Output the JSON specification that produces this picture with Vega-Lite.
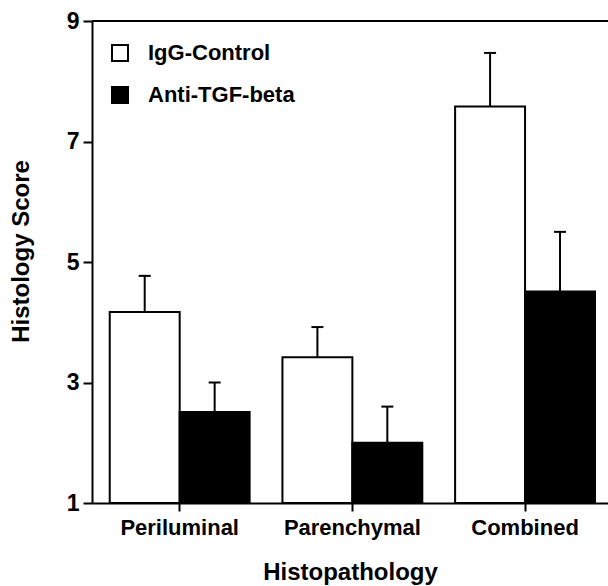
{
  "$schema": "https://vega.github.io/schema/vega-lite/v6.json",
  "width": 516,
  "height": 482,
  "autosize": {"type": "none"},
  "padding": {"left": 92, "top": 21, "right": 0, "bottom": 83},
  "background": "white",
  "config": {
    "view": {"stroke": null},
    "font": "Liberation Sans",
    "axis": {
      "domainColor": "black",
      "domainWidth": 2,
      "tickColor": "black",
      "tickWidth": 2,
      "labelColor": "black",
      "labelFont": "Liberation Sans",
      "labelFontWeight": "bold",
      "labelFontSize": 22,
      "titleColor": "black",
      "titleFont": "Liberation Sans",
      "titleFontWeight": "bold",
      "grid": false
    },
    "legend": {
      "labelFont": "Liberation Sans",
      "labelFontWeight": "bold",
      "labelFontSize": 22,
      "labelColor": "black"
    }
  },
  "data": {
    "values": [
      {"site": "Periluminal", "group": "IgG-Control", "mean": 4.17, "upper": 4.77},
      {"site": "Periluminal", "group": "Anti-TGF-beta", "mean": 2.51, "upper": 3.0},
      {"site": "Parenchymal", "group": "IgG-Control", "mean": 3.42, "upper": 3.92},
      {"site": "Parenchymal", "group": "Anti-TGF-beta", "mean": 2.0, "upper": 2.6},
      {"site": "Combined", "group": "IgG-Control", "mean": 7.58, "upper": 8.47},
      {"site": "Combined", "group": "Anti-TGF-beta", "mean": 4.51, "upper": 5.5}
    ]
  },
  "layer": [
    {
      "mark": {"type": "bar", "stroke": "black", "strokeWidth": 2},
      "encoding": {
        "x": {
          "field": "site",
          "type": "nominal",
          "sort": ["Periluminal", "Parenchymal", "Combined"],
          "scale": {"paddingInner": 0.19, "paddingOuter": 0.089, "align": 0.577},
          "axis": {
            "labelAngle": 0,
            "tickSize": 8,
            "labelPadding": 6,
            "title": "Histopathology",
            "titleFontSize": 24,
            "titlePadding": 22
          }
        },
        "xOffset": {
          "field": "group",
          "type": "nominal",
          "sort": ["IgG-Control", "Anti-TGF-beta"],
          "scale": {"paddingInner": 0, "paddingOuter": 0}
        },
        "y": {
          "field": "mean",
          "type": "quantitative",
          "scale": {"domain": [1, 9], "zero": false, "nice": false},
          "axis": {
            "values": [1, 3, 5, 7, 9],
            "format": "d",
            "tickSize": 9,
            "labelPadding": 4,
            "labelFontSize": 23,
            "title": "Histology Score",
            "titleFontSize": 24,
            "titleX": -59,
            "titleY": 230
          }
        },
        "y2": {"datum": 1},
        "fill": {
          "field": "group",
          "type": "nominal",
          "sort": ["IgG-Control", "Anti-TGF-beta"],
          "scale": {"domain": ["IgG-Control", "Anti-TGF-beta"], "range": ["white", "black"]},
          "legend": {
            "title": null,
            "orient": "none",
            "legendX": 17,
            "legendY": 21,
            "padding": 0,
            "symbolType": "square",
            "symbolSize": 256,
            "symbolStrokeColor": "black",
            "symbolStrokeWidth": 2,
            "labelOffset": 17,
            "rowPadding": 18
          }
        }
      }
    },
    {
      "mark": {"type": "rule", "color": "black", "strokeWidth": 2},
      "encoding": {
        "x": {"field": "site", "type": "nominal", "sort": ["Periluminal", "Parenchymal", "Combined"]},
        "xOffset": {"field": "group", "type": "nominal", "sort": ["IgG-Control", "Anti-TGF-beta"]},
        "y": {"field": "mean", "type": "quantitative"},
        "y2": {"field": "upper"}
      }
    },
    {
      "mark": {"type": "tick", "color": "black", "size": 12, "thickness": 2, "opacity": 1},
      "encoding": {
        "x": {"field": "site", "type": "nominal", "sort": ["Periluminal", "Parenchymal", "Combined"]},
        "xOffset": {"field": "group", "type": "nominal", "sort": ["IgG-Control", "Anti-TGF-beta"]},
        "y": {"field": "upper", "type": "quantitative"}
      }
    },
    {
      "mark": {"type": "rule", "color": "black", "strokeWidth": 2},
      "encoding": {
        "y": {"datum": 9}
      }
    }
  ]
}
